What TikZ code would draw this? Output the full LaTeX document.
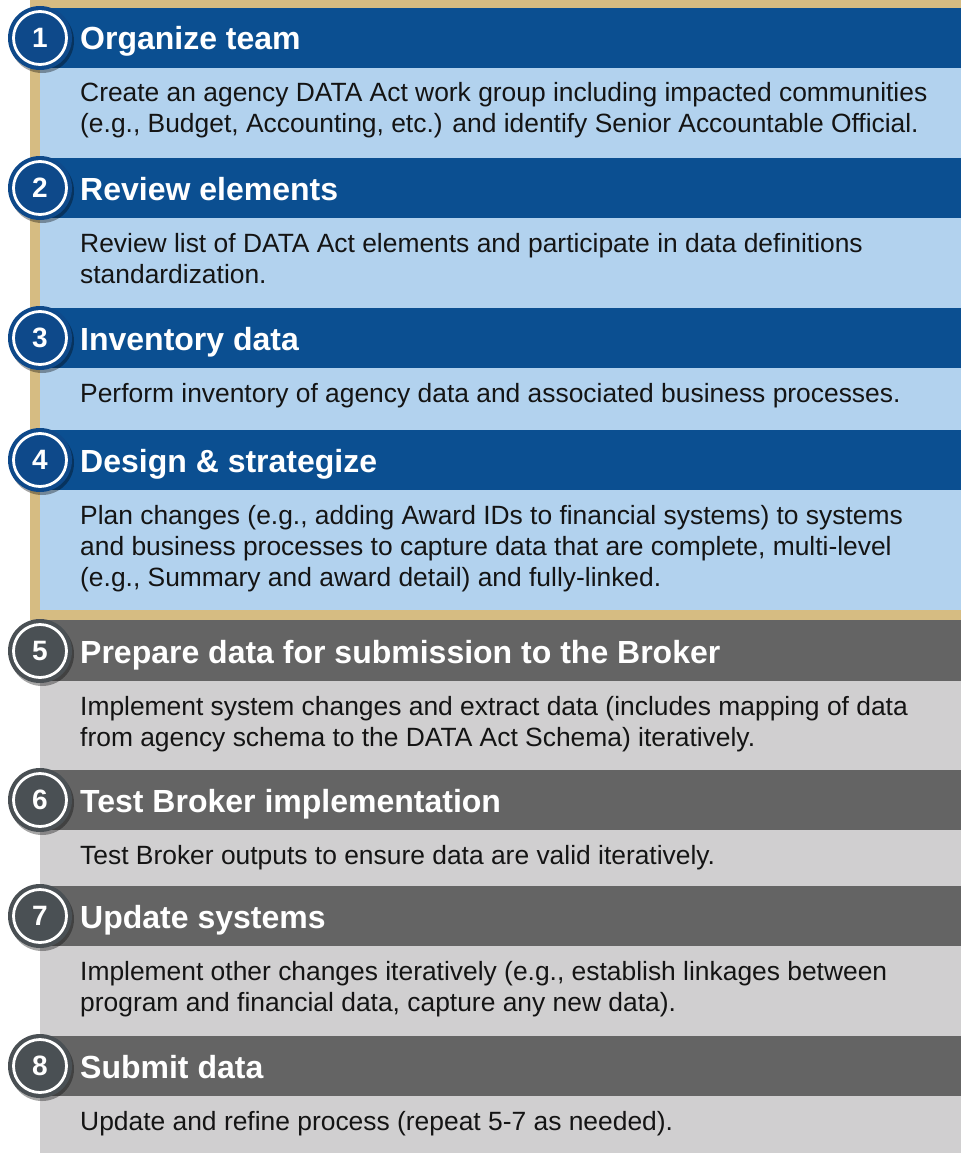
\documentclass[tikz,border=0pt]{standalone}
\usepackage{fontspec}
\setmainfont{Liberation Sans}
\usetikzlibrary{shadows}
\definecolor{tan}{RGB}{214,188,130}
\definecolor{hblue}{RGB}{11,79,145}
\definecolor{lblue}{RGB}{178,210,238}
\definecolor{hgray}{RGB}{100,100,100}
\definecolor{lgray}{RGB}{208,207,208}
\definecolor{cblue}{RGB}{14,73,138}
\definecolor{cgray}{RGB}{74,80,84}
\tikzset{
  hdtext/.style={anchor=base west, inner sep=0pt, text=white, font=\fontsize{32}{36}\selectfont\bfseries},
  bdtext/.style={anchor=base west, inner sep=0pt, text=black!92, font=\fontsize{26.4}{31}\selectfont},
  numcirc/.style={circle, minimum size=64pt, inner sep=0pt, draw=none, text=white,
     font=\fontsize{28}{30}\selectfont\bfseries,
     drop shadow={shadow xshift=2pt, shadow yshift=-3pt, opacity=0.35, fill=black}},
  ring/.style={circle, minimum size=53pt, inner sep=0pt, draw=white, line width=2.8pt},
}
\newcommand{\bodybox}[1]{\parbox[t]{900pt}{\raggedright #1}}
\begin{document}
\begin{tikzpicture}[x=1pt,y=-1pt]
\useasboundingbox (0,0) rectangle (961,1153);
\fill[white] (0,0) rectangle (961,1153);
% tan frame around top section
\fill[tan] (30,0) rectangle (961,620);
% blue section
\fill[lblue] (40,68) rectangle (961,610);
\fill[hblue] (40,8) rectangle (961,68);
\fill[hblue] (40,158) rectangle (961,218);
\fill[hblue] (40,308) rectangle (961,368);
\fill[hblue] (40,430) rectangle (961,490);
% gray section
\fill[lgray] (40,620) rectangle (961,1153);
\fill[hgray] (40,620) rectangle (961,681);
\fill[hgray] (40,770) rectangle (961,830);
\fill[hgray] (40,886) rectangle (961,946);
\fill[hgray] (40,1036) rectangle (961,1096);

% step 1
\node[numcirc, fill=cblue] (c1) at (40,38) {1};
\node[ring] (r1) at (c1) {};
\node[hdtext] (h1) at (80,50) {Organize team};
\node[bdtext] (b1) at (80,102) {\bodybox{Create an agency DATA Act work group including impacted communities\\(e.g., Budget, Accounting, etc.) and identify Senior Accountable Official.}};
% step 2
\node[numcirc, fill=cblue] (c2) at (40,188) {2};
\node[ring] (r2) at (c2) {};
\node[hdtext] (h2) at (80,200) {Review elements};
\node[bdtext] (b2) at (80,252) {\bodybox{Review list of DATA Act elements and participate in data definitions\\standardization.}};
% step 3
\node[numcirc, fill=cblue] (c3) at (40,338) {3};
\node[ring] (r3) at (c3) {};
\node[hdtext] (h3) at (80,350) {Inventory data};
\node[bdtext] (b3) at (80,402) {\bodybox{Perform inventory of agency data and associated business processes.}};
% step 4
\node[numcirc, fill=cblue] (c4) at (40,460) {4};
\node[ring] (r4) at (c4) {};
\node[hdtext] (h4) at (80,472) {Design \& strategize};
\node[bdtext] (b4) at (80,524) {\bodybox{Plan changes (e.g., adding Award IDs to financial systems) to systems\\and business processes to capture data that are complete, multi-level\\(e.g., Summary and award detail) and fully-linked.}};
% step 5
\node[numcirc, fill=cgray] (c5) at (40,651) {5};
\node[ring] (r5) at (c5) {};
\node[hdtext] (h5) at (80,663) {Prepare data for submission to the Broker};
\node[bdtext] (b5) at (80,715) {\bodybox{Implement system changes and extract data (includes mapping of data\\from agency schema to the DATA Act Schema) iteratively.}};
% step 6
\node[numcirc, fill=cgray] (c6) at (40,800) {6};
\node[ring] (r6) at (c6) {};
\node[hdtext] (h6) at (80,812) {Test Broker implementation};
\node[bdtext] (b6) at (80,864) {\bodybox{Test Broker outputs to ensure data are valid iteratively.}};
% step 7
\node[numcirc, fill=cgray] (c7) at (40,916) {7};
\node[ring] (r7) at (c7) {};
\node[hdtext] (h7) at (80,928) {Update systems};
\node[bdtext] (b7) at (80,980) {\bodybox{Implement other changes iteratively (e.g., establish linkages between\\program and financial data, capture any new data).}};
% step 8
\node[numcirc, fill=cgray] (c8) at (40,1066) {8};
\node[ring] (r8) at (c8) {};
\node[hdtext] (h8) at (80,1078) {Submit data};
\node[bdtext] (b8) at (80,1130) {\bodybox{Update and refine process (repeat 5-7 as needed).}};
\end{tikzpicture}
\end{document}
